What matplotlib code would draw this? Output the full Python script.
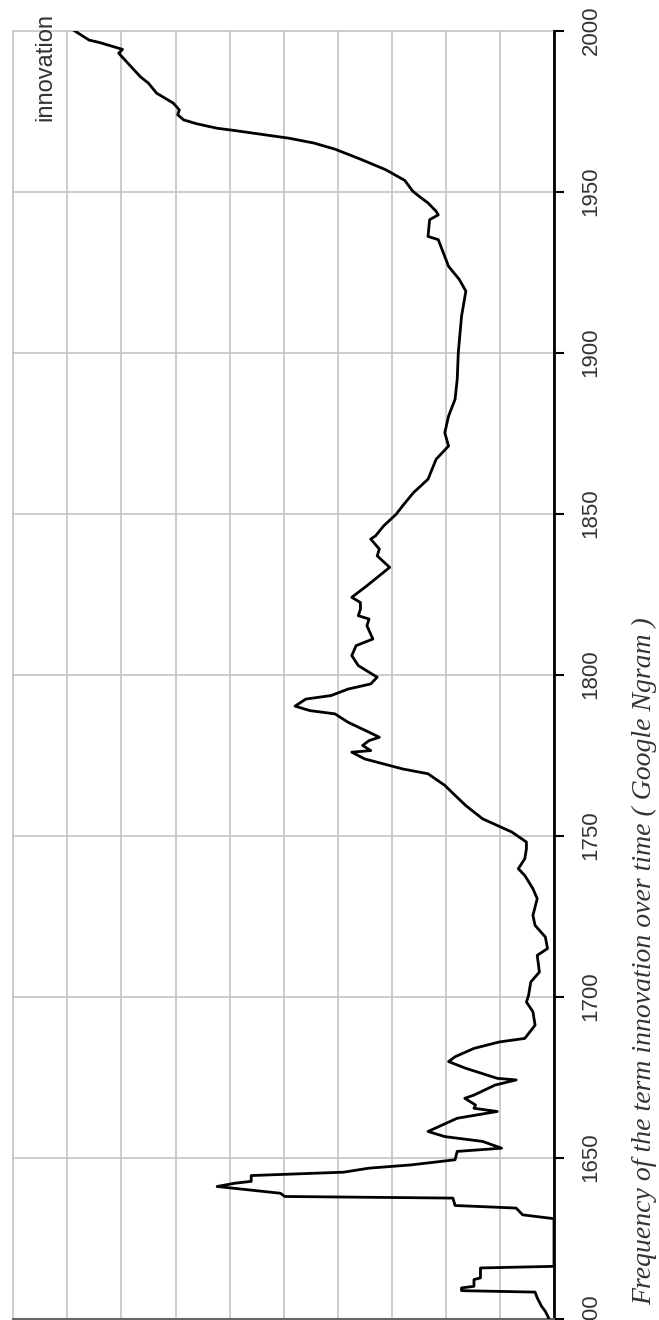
import matplotlib.pyplot as plt

# years (rotated chart: time runs bottom -> top), values in grid units
years = [1600.2, 1602.2, 1603.8, 1606.4, 1608.2, 1608.65, 1609.5, 1610.0, 1612.1, 1612.6,
         1615.7, 1616.2, 1631.0, 1632.2, 1634.3, 1635.1, 1637.4, 1637.9, 1638.9, 1641.0,
         1642.0, 1642.6, 1644.4, 1645.45, 1646.7, 1647.7, 1649.3, 1651.9, 1652.9, 1655.0,
         1656.5, 1658.1, 1662.2, 1664.3, 1665.3, 1666.3, 1668.4, 1669.4, 1672.5, 1674.1,
         1674.6, 1677.7, 1679.8, 1681.3, 1683.9, 1685.9, 1687.0, 1691.1, 1695.3, 1698.3,
         1700.4, 1704.5, 1707.6, 1712.8, 1714.9, 1718.5, 1722.1, 1725.2, 1730.4, 1733.5,
         1737.6, 1739.7, 1742.8, 1745.9, 1748.0, 1751.1, 1755.2, 1759.3, 1762.5, 1765.6,
         1769.2, 1770.7, 1773.8, 1775.9, 1776.4, 1778.0, 1779.5, 1780.55, 1782.1, 1785.2,
         1787.8, 1788.8, 1790.2, 1792.4, 1793.5, 1795.5, 1797.1, 1799.2, 1802.8, 1805.9,
         1809.0, 1811.05, 1815.2, 1817.25, 1818.3, 1820.3, 1822.4, 1824.0, 1827.6, 1830.7,
         1833.3, 1836.9, 1839.0, 1842.1, 1843.1, 1846.2, 1849.8, 1852.4, 1856.5, 1860.7,
         1866.9, 1871.0, 1875.1, 1880.3, 1885.5, 1891.7, 1900.0, 1911.3, 1919.1, 1922.7,
         1926.8, 1935.1, 1936.1, 1941.3, 1942.8, 1943.9, 1946.5, 1948.5, 1950.1, 1953.5,
         1956.8, 1960.1, 1963.2, 1965.1, 1966.6, 1967.9, 1969.0, 1969.7, 1971.1, 1972.3,
         1973.9, 1975.4, 1977.5, 1980.6, 1983.7, 1985.7, 1988.8, 1993.0, 1994.2, 1996.3,
         1997.1, 2000.0]
freq = [0.10, 0.16, 0.23, 0.31, 0.35, 1.71, 1.71, 1.48, 1.48, 1.36,
        1.36, 0.0, 0.0, 0.58, 0.70, 1.83, 1.87, 4.98, 5.06, 6.23,
        5.91, 5.60, 5.60, 3.89, 3.42, 2.65, 1.83, 1.79, 0.97, 1.32,
        2.02, 2.33, 1.79, 1.05, 1.48, 1.45, 1.65, 1.48, 1.09, 0.70,
        1.05, 1.63, 1.95, 1.83, 1.48, 1.01, 0.54, 0.35, 0.39, 0.51,
        0.47, 0.43, 0.27, 0.31, 0.12, 0.16, 0.35, 0.39, 0.31, 0.39,
        0.54, 0.66, 0.54, 0.51, 0.51, 0.78, 1.32, 1.63, 1.83, 2.02,
        2.33, 2.80, 3.50, 3.74, 3.39, 3.54, 3.42, 3.23, 3.42, 3.81,
        4.05, 4.51, 4.79, 4.59, 4.12, 3.81, 3.39, 3.27, 3.62, 3.74,
        3.66, 3.35, 3.46, 3.42, 3.62, 3.58, 3.58, 3.74, 3.46, 3.23,
        3.04, 3.27, 3.23, 3.39, 3.30, 3.15, 2.92, 2.80, 2.60, 2.33,
        2.18, 1.95, 2.02, 1.95, 1.83, 1.79, 1.77, 1.71, 1.63, 1.75,
        1.95, 2.14, 2.33, 2.30, 2.14, 2.18, 2.33, 2.49, 2.61, 2.76,
        3.11, 3.58, 4.05, 4.44, 4.90, 5.45, 5.91, 6.23, 6.61, 6.85,
        6.96, 6.93, 7.04, 7.35, 7.50, 7.65, 7.82, 8.05, 7.98, 8.40,
        8.60, 8.87]

year_ticks = [1600, 1650, 1700, 1750, 1800, 1850, 1900, 1950, 2000]
label = "innovation"
caption = "Frequency of the term innovation over time ( Google Ngram )"

W, H = 659, 1320
fig = plt.figure(figsize=(W / 100, H / 100), dpi=100)
bot = 1.5
ax = fig.add_axes([13.3 / W, bot / H, (554 - 13.3) / W, (H - 30.7 - bot) / H])

ax.plot(freq, years, color="black", lw=2.0, zorder=3)
ax.set_xlim(10, 0)
ax.set_ylim(1600, 2000)

ax.set_xticks(range(11))
ax.tick_params(axis="x", length=0, labelbottom=False)
ax.set_yticks(year_ticks)
ax.yaxis.tick_right()
ax.tick_params(axis="y", direction="out", length=7, width=1.5, pad=12,
               labelsize=16, labelcolor="#333333", labelrotation=90)
for t in ax.get_yticklabels():
    t.set_fontfamily("Liberation Sans")
    t.set_va("center")
    t.set_ha("left")

ax.grid(True, color="#c4c4c4", lw=1.2)
ax.set_axisbelow(True)
for gl in ax.get_xgridlines() + ax.get_ygridlines():
    gl.set_clip_on(False)

for s in ["top", "left"]:
    ax.spines[s].set_visible(False)
ax.spines["bottom"].set_color("#666666")
ax.spines["bottom"].set_linewidth(1.5)
ax.spines["right"].set_linewidth(2)
ax.spines["right"].set_color("black")

fig.text(45 / W, 1 - 13 / H, label, rotation=90, ha="center", va="top",
         fontsize=17, color="#333333", family="Liberation Sans")
fig.text(645 / W, 15 / H, caption, rotation=90, ha="center", va="bottom",
         fontsize=20, style="italic", color="#333333", family="Liberation Serif")

fig.savefig("out.png", dpi=100, facecolor="white")
